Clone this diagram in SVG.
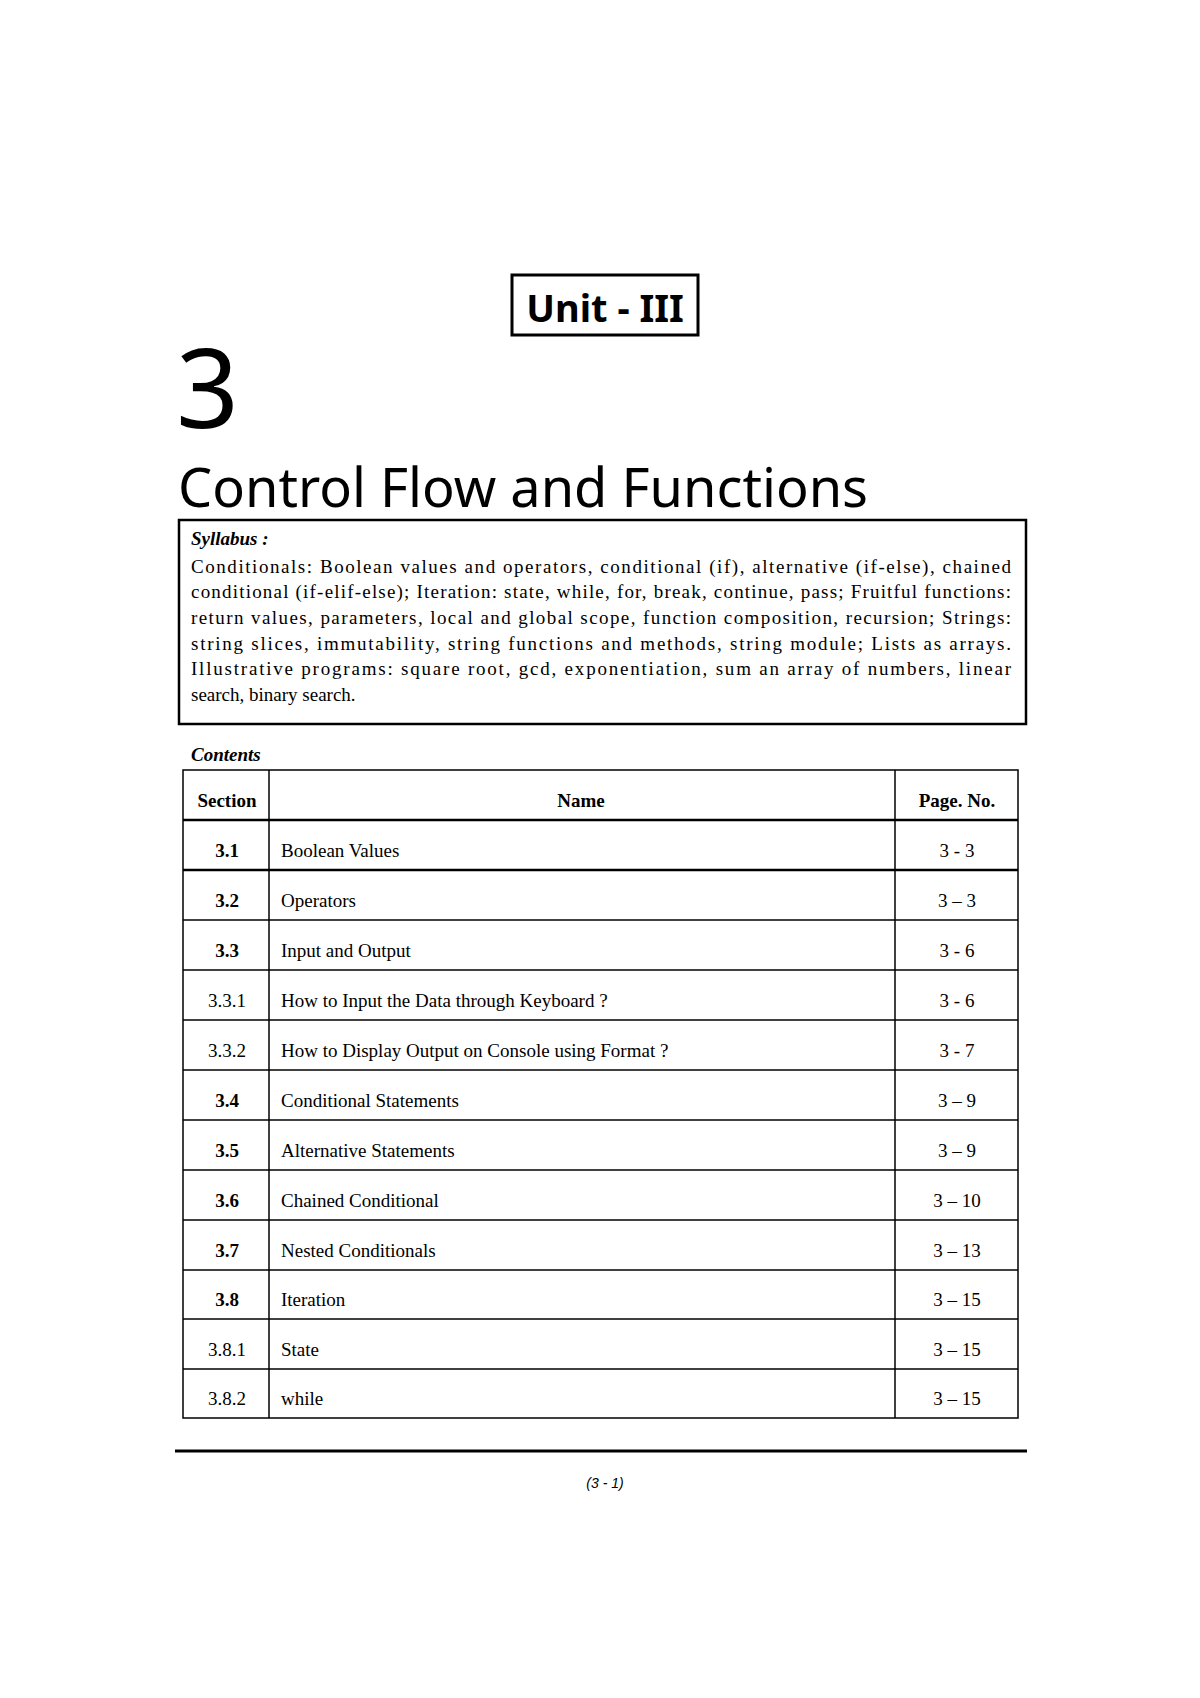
<svg xmlns="http://www.w3.org/2000/svg" width="1200" height="1698" viewBox="0 0 1200 1698">
<style>
.s{font-family:"Liberation Serif","DejaVu Serif",serif;font-size:19px;fill:#000}
.b{font-weight:bold}
.c{text-anchor:middle}
.g{stroke:#000;stroke-width:1.5;fill:none}
</style>
<rect width="1200" height="1698" fill="#fff"/>
<g id="unit"><rect x="512" y="275" width="186" height="60" fill="none" stroke="#000" stroke-width="3"/>
<text x="605" y="322" class="c" font-family="Noto Sans,sans-serif" font-weight="bold" font-size="38">Unit - III</text></g>
<g id="heading">
<text x="176" y="428" font-family="Noto Sans,sans-serif" font-size="110">3</text>
<text x="178" y="507" font-family="Noto Sans,sans-serif" font-size="54" textLength="690" lengthAdjust="spacingAndGlyphs">Control Flow and Functions</text></g>
<g id="syllabus"><rect x="179" y="520" width="847" height="204" fill="none" stroke="#000" stroke-width="2.5"/>
<text x="191" y="545" class="s b" font-style="italic" font-size="18">Syllabus :</text>
<text x="191" y="573" class="s" textLength="820" lengthAdjust="spacing">Conditionals: Boolean values and operators, conditional (if), alternative (if-else), chained</text>
<text x="191" y="598" class="s" textLength="820" lengthAdjust="spacing">conditional (if-elif-else); Iteration: state, while, for, break, continue, pass; Fruitful functions:</text>
<text x="191" y="624" class="s" textLength="820" lengthAdjust="spacing">return values, parameters, local and global scope, function composition, recursion; Strings:</text>
<text x="191" y="650" class="s" textLength="820" lengthAdjust="spacing">string slices, immutability, string functions and methods, string module; Lists as arrays.</text>
<text x="191" y="675" class="s" textLength="820" lengthAdjust="spacing">Illustrative programs: square root, gcd, exponentiation, sum an array of numbers, linear</text>
<text x="191" y="701" class="s">search, binary search.</text></g>
<g id="contents">
<text x="191" y="761" class="s b" font-style="italic" font-size="18">Contents</text>
<rect x="183" y="770" width="835" height="648" class="g" stroke-width="2"/>
<line x1="269" y1="770" x2="269" y2="1418" class="g"/>
<line x1="895" y1="770" x2="895" y2="1418" class="g" stroke-width="2"/>
<g class="g">
<line x1="183" y1="820" x2="1018" y2="820" stroke-width="2.5"/>
<line x1="183" y1="870" x2="1018" y2="870" stroke-width="2.5"/>
<line x1="183" y1="920" x2="1018" y2="920"/>
<line x1="183" y1="970" x2="1018" y2="970"/>
<line x1="183" y1="1020" x2="1018" y2="1020"/>
<line x1="183" y1="1070" x2="1018" y2="1070"/>
<line x1="183" y1="1120" x2="1018" y2="1120"/>
<line x1="183" y1="1170" x2="1018" y2="1170"/>
<line x1="183" y1="1220" x2="1018" y2="1220"/>
<line x1="183" y1="1270" x2="1018" y2="1270"/>
<line x1="183" y1="1319" x2="1018" y2="1319"/>
<line x1="183" y1="1369" x2="1018" y2="1369"/>
</g>
<text x="227" y="807" class="s b c">Section</text><text x="581" y="807" class="s b c">Name</text><text x="957" y="807" class="s b c">Page. No.</text>
<text x="227" y="857" class="s b c">3.1</text><text x="281" y="857" class="s">Boolean Values</text><text x="957" y="857" class="s c">3 - 3</text>
<text x="227" y="907" class="s b c">3.2</text><text x="281" y="907" class="s">Operators</text><text x="957" y="907" class="s c">3 – 3</text>
<text x="227" y="957" class="s b c">3.3</text><text x="281" y="957" class="s">Input and Output</text><text x="957" y="957" class="s c">3 - 6</text>
<text x="227" y="1007" class="s c">3.3.1</text><text x="281" y="1007" class="s">How to Input the Data through Keyboard ?</text><text x="957" y="1007" class="s c">3 - 6</text>
<text x="227" y="1057" class="s c">3.3.2</text><text x="281" y="1057" class="s">How to Display Output on Console using Format ?</text><text x="957" y="1057" class="s c">3 - 7</text>
<text x="227" y="1107" class="s b c">3.4</text><text x="281" y="1107" class="s">Conditional Statements</text><text x="957" y="1107" class="s c">3 – 9</text>
<text x="227" y="1157" class="s b c">3.5</text><text x="281" y="1157" class="s">Alternative Statements</text><text x="957" y="1157" class="s c">3 – 9</text>
<text x="227" y="1207" class="s b c">3.6</text><text x="281" y="1207" class="s">Chained Conditional</text><text x="957" y="1207" class="s c">3 – 10</text>
<text x="227" y="1257" class="s b c">3.7</text><text x="281" y="1257" class="s">Nested Conditionals</text><text x="957" y="1257" class="s c">3 – 13</text>
<text x="227" y="1306" class="s b c">3.8</text><text x="281" y="1306" class="s">Iteration</text><text x="957" y="1306" class="s c">3 – 15</text>
<text x="227" y="1356" class="s c">3.8.1</text><text x="281" y="1356" class="s">State</text><text x="957" y="1356" class="s c">3 – 15</text>
<text x="227" y="1405" class="s c">3.8.2</text><text x="281" y="1405" class="s">while</text><text x="957" y="1405" class="s c">3 – 15</text>
</g>
<g id="footer"><line x1="175" y1="1451" x2="1027" y2="1451" stroke="#000" stroke-width="3"/>
<text x="605" y="1488" class="c" font-family="Liberation Sans,sans-serif" font-style="italic" font-size="14">(3 - 1)</text></g>
</svg>
